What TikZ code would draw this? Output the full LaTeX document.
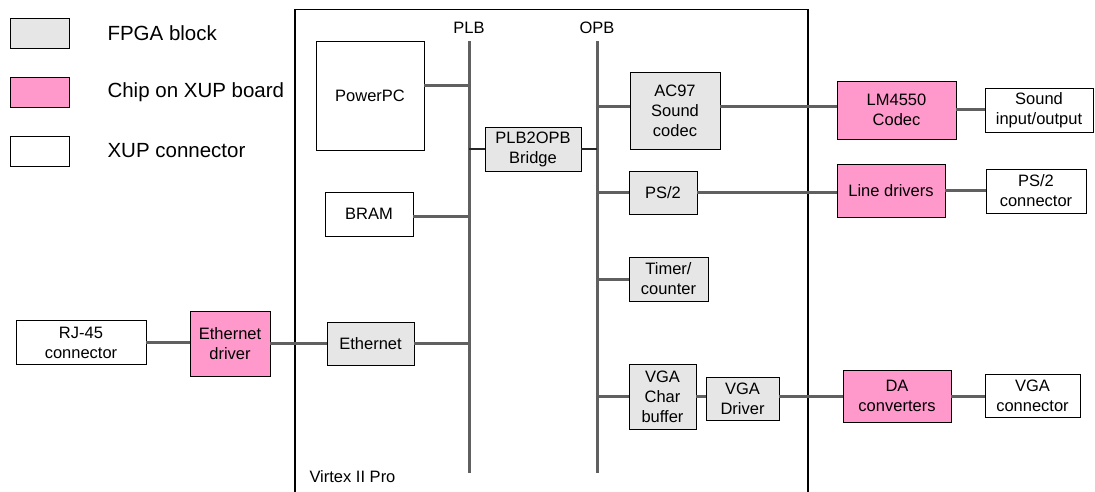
\documentclass[tikz,border=0pt]{standalone}
\usepackage{fontspec}
\setmainfont{Liberation Sans}
\usetikzlibrary{positioning}

\definecolor{fpgagray}{HTML}{E6E6E6}
\definecolor{xuppink}{HTML}{FF99CC}
\definecolor{busgray}{HTML}{606060}

\begin{document}
\begin{tikzpicture}[x=1pt, y=-1pt,
        every node/.style={font=\fontsize{16.5}{20}\selectfont},
        blk/.style={draw, line width=0.9pt, align=center, inner sep=0pt},
        fpga/.style={blk, fill=fpgagray},
        chip/.style={blk, fill=xuppink},
        xconn/.style={blk, fill=white},
        legtext/.style={anchor=west, font=\fontsize{20.5}{24}\selectfont},
        bus/.style={busgray, line width=3pt},
        link/.style={busgray, line width=3pt},
        thinlink/.style={black!85, line width=1.2pt}]
        \useasboundingbox (0,0) rectangle (1095,492);
        % legend
        \node[fpga, minimum width=59, minimum height=30] (legfpga) at (39.5,33) {};
        \node[chip, minimum width=59, minimum height=30] (legchip) at (39.5,92) {};
        \node[xconn, minimum width=59, minimum height=30] (legconn) at (39.5,151) {};
        \node[legtext] (legfpgatext) at (104,33) {FPGA block};
        \node[legtext] (legchiptext) at (104,92) {Chip on XUP board};
        \node[legtext] (legconntext) at (104,151) {XUP connector};
        % Virtex II Pro outline
        \draw[line width=1.2pt] (295,493) |- (808,9.5) -- (808,493);
        \node[anchor=west] (virtex) at (306,477) {Virtex II Pro};
        % buses
        \coordinate (plbtop) at (469,41);
        \coordinate (plbbot) at (469,473);
        \coordinate (opbtop) at (597,41);
        \coordinate (opbbot) at (597,473);
        \node (plblabel) at (469,28) {PLB};
        \node (opblabel) at (597,28) {OPB};
        \draw[bus] (plbtop) -- (plbbot);
        \draw[bus] (opbtop) -- (opbbot);
        % FPGA blocks
        \node[xconn, minimum width=108, minimum height=109] (ppc) at (370,95.5) {PowerPC};
        \node[xconn, minimum width=88, minimum height=44] (bram) at (369,214) {BRAM};
        \node[fpga, minimum width=87, minimum height=43] (eth) at (370.5,343.5) {Ethernet};
        \node[fpga, minimum width=96, minimum height=44] (bridge) at (533,149) {PLB2OPB\\Bridge};
        \node[fpga, minimum width=90, minimum height=77] (ac97) at (675,110.5) {AC97\\Sound\\codec};
        \node[fpga, minimum width=68, minimum height=43] (ps2) at (663,192.5) {PS/2};
        \node[fpga, minimum width=79, minimum height=44] (timer) at (668.5,279) {Timer/\\counter};
        \node[fpga, minimum width=67, minimum height=65] (vgabuf) at (662.5,397) {VGA\\Char\\buffer};
        \node[fpga, minimum width=73, minimum height=43] (vgadrv) at (742.5,399) {VGA\\Driver};
        % chips on XUP board
        \node[chip, minimum width=80, minimum height=65] (ethdrv) at (230,343.5) {Ethernet\\driver};
        \node[chip, minimum width=119, minimum height=58] (lm4550) at (896.5,110) {LM4550\\Codec};
        \node[chip, minimum width=108, minimum height=53] (linedrv) at (891,190.5) {Line drivers};
        \node[chip, minimum width=108, minimum height=52] (dac) at (897,396) {DA\\converters};
        % XUP connectors
        \node[xconn, minimum width=130, minimum height=44] (rj45) at (81,342.5) {RJ-45\\connector};
        \node[xconn, minimum width=108, minimum height=44] (sound) at (1039,110) {Sound\\input/output};
        \node[xconn, minimum width=100, minimum height=44] (ps2conn) at (1036,191) {PS/2\\connector};
        \node[xconn, minimum width=95, minimum height=43] (vgaconn) at (1032.5,396) {VGA\\connector};
        % links to PLB
        \draw[link] (ppc.east |- 0,86) -- (plbtop |- 0,86);
        \draw[link] (bram.east |- 0,216) -- (plbtop |- 0,216);
        \draw[link] (eth) -- (eth -| plbtop);
        \draw[thinlink] (bridge) -- (bridge -| plbtop);
        % links to OPB
        \draw[thinlink] (bridge) -- (bridge -| opbtop);
        \draw[link] (ac97.west |- 0,107) -- (opbtop |- 0,107);
        \draw[link] (ps2) -- (ps2 -| opbtop);
        \draw[link] (timer) -- (timer -| opbtop);
        \draw[link] (vgabuf.west |- 0,396) -- (opbtop |- 0,396);
        % off-chip links
        \draw[link] (rj45) -- (rj45 -| ethdrv.west);
        \draw[link] (ethdrv) -- (ethdrv -| eth.west);
        \draw[link] (ac97.east |- 0,107) -- (lm4550.west |- 0,107);
        \draw[link] (lm4550) -- (sound);
        \draw[link] (ps2.east |- 0,192) -- (linedrv.west |- 0,192);
        \draw[link] (linedrv) -- (linedrv -| ps2conn.west);
        \draw[link] (vgabuf.east |- 0,396) -- (vgadrv.west |- 0,396);
        \draw[link] (vgadrv.east |- 0,396) -- (dac.west |- 0,396);
        \draw[link] (dac) -- (vgaconn);
      \end{tikzpicture}
\end{document}
